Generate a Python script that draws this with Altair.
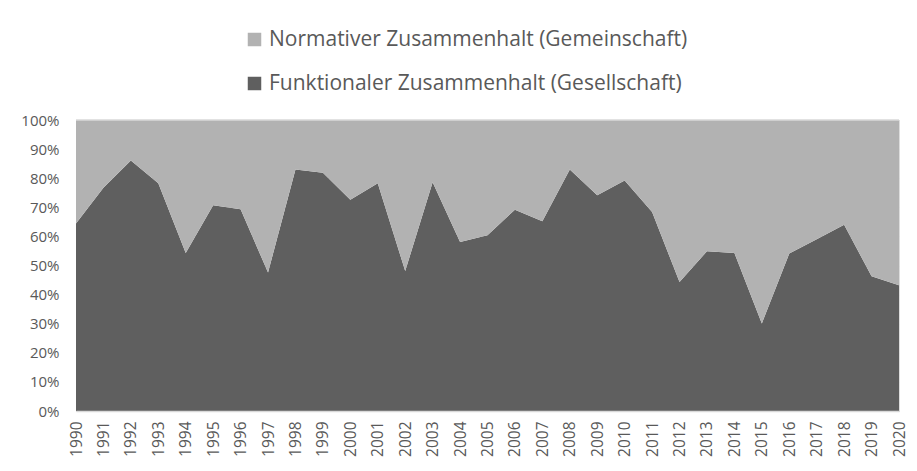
import altair as alt
import pandas as pd

years = list(range(1990, 2021))
funktional = [64.4, 76.7, 86.1, 78.3, 54.3, 70.7, 69.3, 47.6, 83.0, 81.9,
              72.6, 78.3, 48.1, 78.6, 58.1, 60.4, 69.2, 65.2, 83.0, 74.1,
              79.2, 68.4, 44.3, 54.9, 54.3, 30.1, 54.1, 59.0, 64.0, 46.3, 43.2]
normativ = [35.6, 23.3, 13.9, 21.7, 45.7, 29.3, 30.7, 52.4, 17.0, 18.1,
            27.4, 21.7, 51.9, 21.4, 41.9, 39.6, 30.8, 34.8, 17.0, 25.9,
            20.8, 31.6, 55.7, 45.1, 45.7, 69.9, 45.9, 41.0, 36.0, 53.7, 56.8]
series = ["Normativer Zusammenhalt (Gemeinschaft)",
          "Funktionaler Zusammenhalt (Gesellschaft)"]
colors = ["#b2b2b2", "#5f5f5f"]
y_ticks = [0, 0.1, 0.2, 0.3, 0.4, 0.5, 0.6, 0.7, 0.8, 0.9, 1.0]

rows = []
for y, f, n in zip(years, funktional, normativ):
    rows.append({"year": y, "series": series[1], "value": f, "ord": 0})
    rows.append({"year": y, "series": series[0], "value": n, "ord": 1})
df = pd.DataFrame(rows)

text_color = "#595959"
font = "Open Sans"

y_axis = alt.Axis(values=y_ticks, format=".0%", title=None,
                  ticks=False, domain=False, grid=True,
                  gridColor="#d9d9d9", labelFont=font,
                  labelFontSize=15, labelColor=text_color,
                  labelPadding=17, labelOverlap=False)
y_scale = alt.Scale(domain=[0, 1], nice=False)

area = alt.Chart(df).mark_area(opacity=1).encode(
    x=alt.X("year:Q",
            scale=alt.Scale(domain=[1990, 2020], nice=False, zero=False),
            axis=alt.Axis(values=years, format="d", labelAngle=-90, title=None,
                          ticks=False, grid=False, domain=True,
                          domainColor="#d9d9d9", domainWidth=1.5,
                          labelFont=font, labelFontSize=15.5,
                          labelColor=text_color, labelPadding=10,
                          labelOverlap=False, zindex=1)),
    y=alt.Y("value:Q", stack="normalize", scale=y_scale, axis=y_axis),
    color=alt.Color("series:N",
                    scale=alt.Scale(domain=series, range=colors),
                    legend=alt.Legend(title=None, orient="none",
                                      direction="vertical",
                                      legendX=168, legendY=-91,
                                      symbolType="square", symbolSize=182,
                                      symbolStrokeWidth=0,
                                      labelFont=font,
                                      labelFontSize=21, labelColor=text_color,
                                      labelOffset=4, rowPadding=22,
                                      labelLimit=700)),
    order=alt.Order("ord:Q"),
)

top_line = alt.Chart(pd.DataFrame({"v": [1]})).mark_rule(
    color="#d9d9d9", strokeWidth=1.5
).encode(y=alt.Y("v:Q", scale=y_scale, axis=y_axis))

chart = alt.layer(area, top_line).properties(
    width=823, height=291,
    autosize=alt.AutoSizeParams(type="none"),
    padding={"left": 68, "top": 112, "right": 10, "bottom": 52},
).configure_view(stroke=None).configure(background="white")

chart.save("out.html", embed_options={"renderer": "svg", "actions": False})
